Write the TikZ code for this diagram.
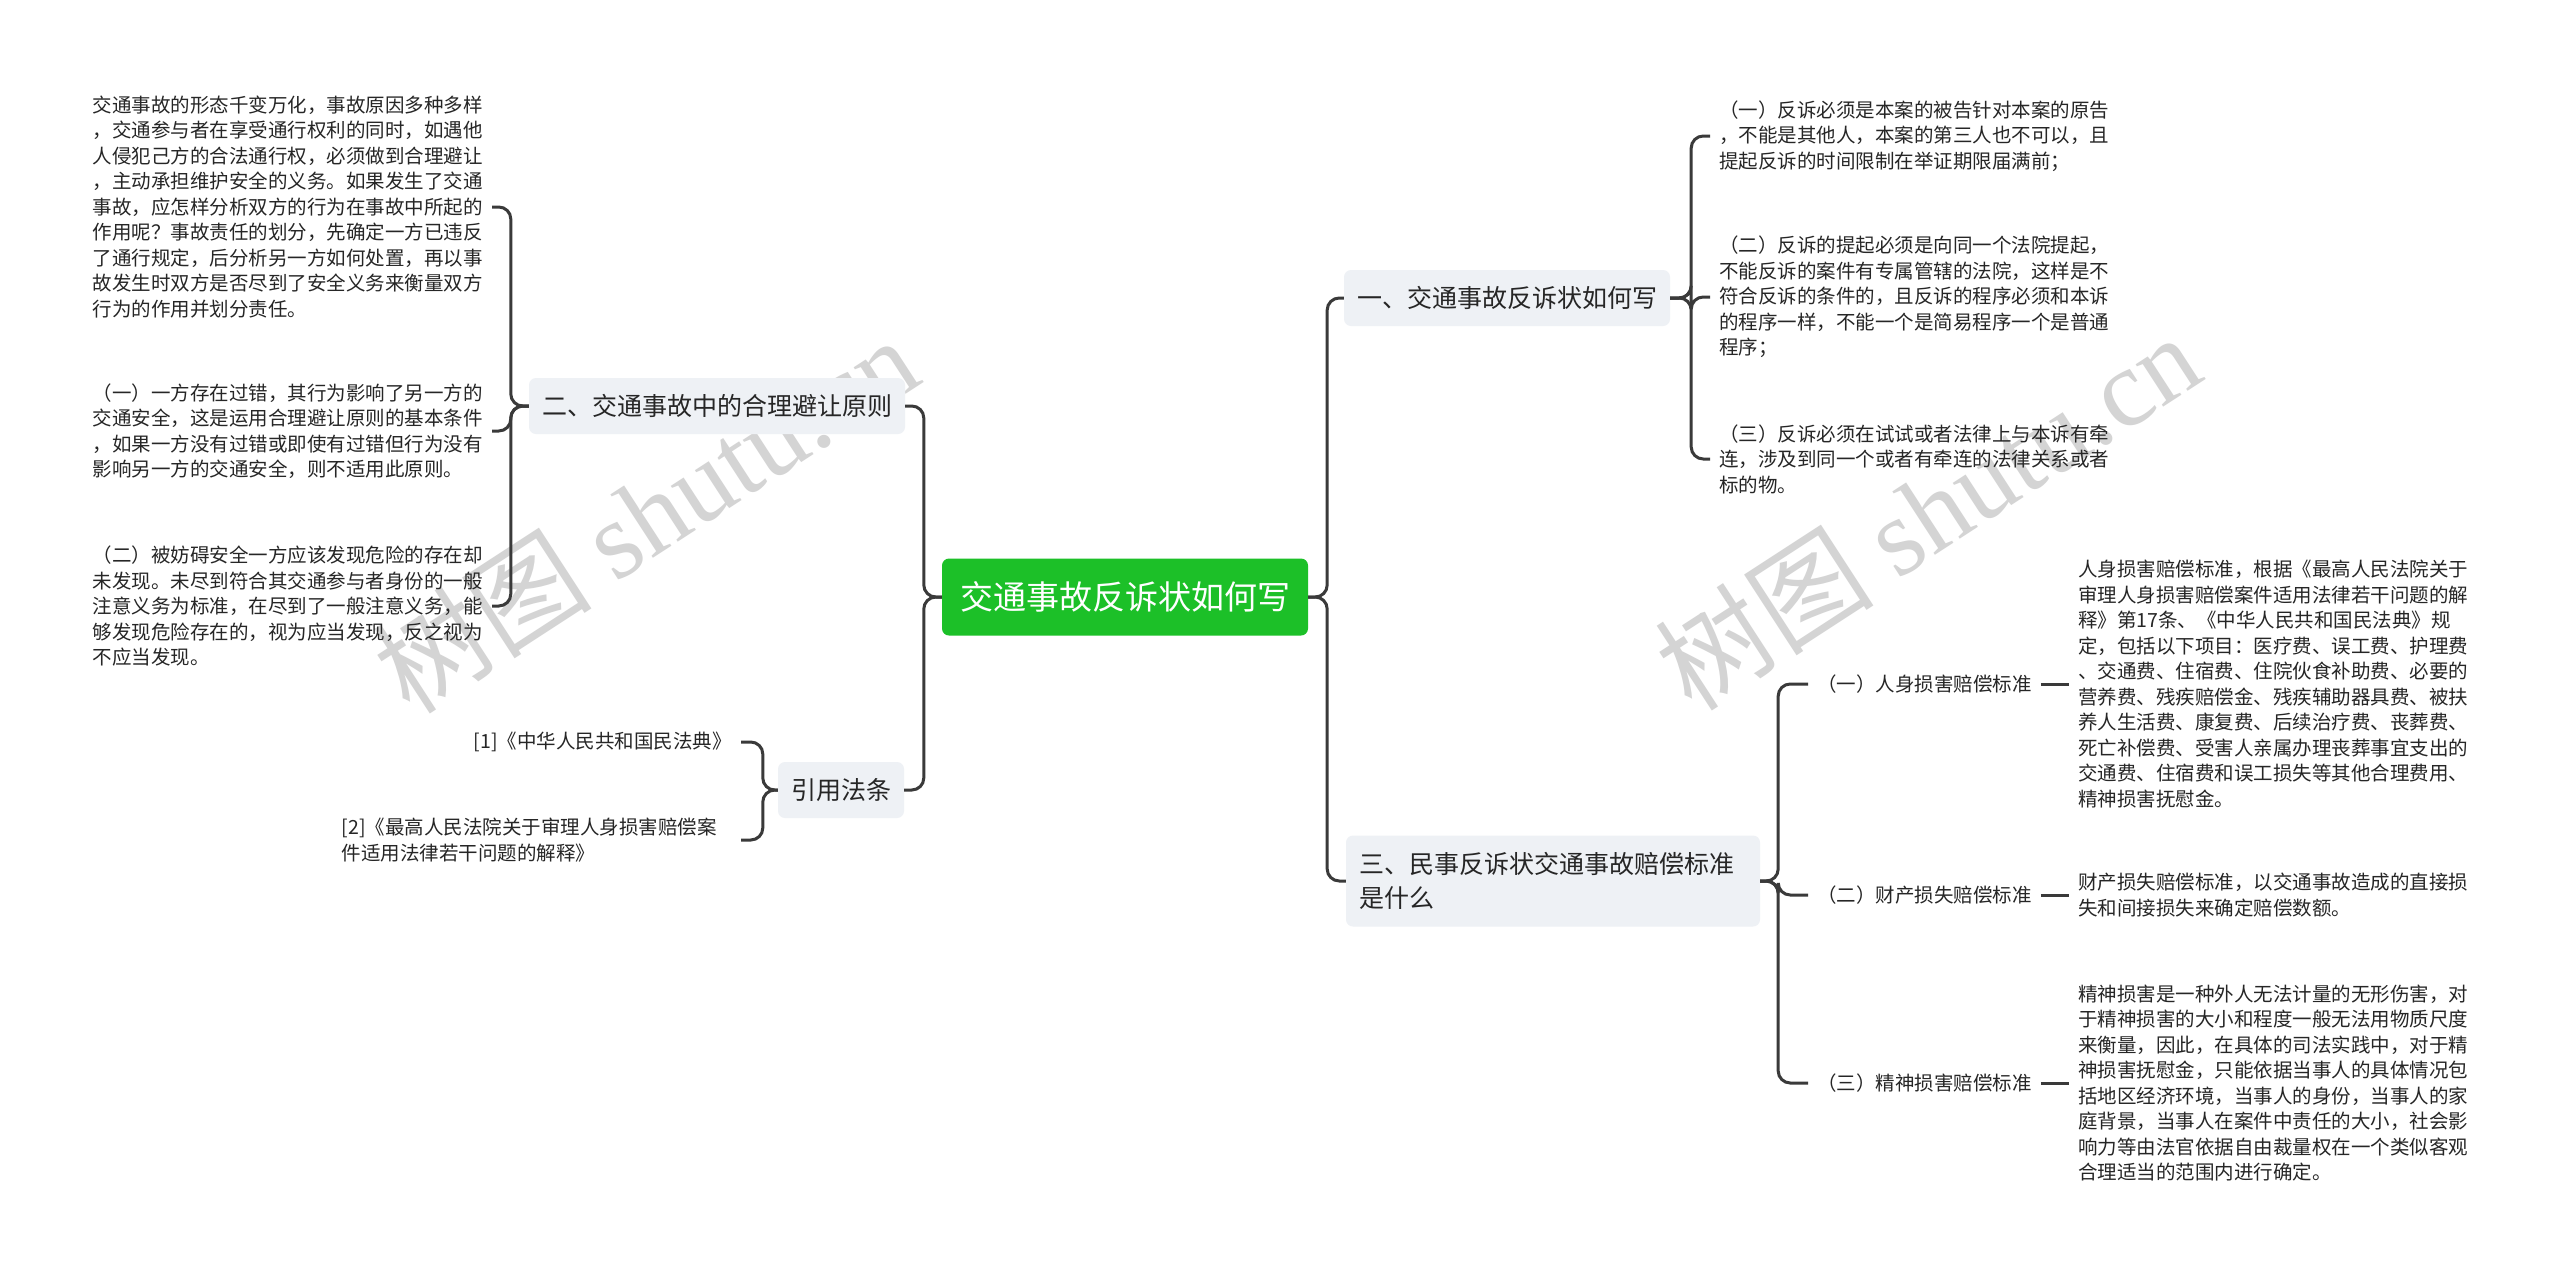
\documentclass[tikz,border=0pt]{standalone}
\usepackage{fontspec}
\setmainfont{Noto Sans CJK SC}
\newfontfamily\wmlatin{Liberation Serif}
\usetikzlibrary{positioning}
\definecolor{rootgreen}{RGB}{28,192,40}
\definecolor{boxgray}{RGB}{238,241,245}
\definecolor{linegray}{RGB}{58,58,58}
\definecolor{txtgray}{RGB}{38,38,38}
\definecolor{wmgray}{RGB}{212,212,212}

\tikzset{
  root/.style={fill=rootgreen, rounded corners=7pt, text=white,
    font=\fontsize{33}{40}\selectfont, minimum width=366pt, minimum height=77pt},
  branch/.style={fill=boxgray, rounded corners=7pt, text=txtgray,
    font=\fontsize{25}{34}\selectfont, inner xsep=13pt, minimum height=56pt, align=left},
  leaf/.style={text=txtgray, font=\fontsize{19.5}{25.5}\selectfont, align=left, inner sep=9pt},
  link/.style={draw=linegray, line width=3pt, rounded corners=12pt},
  wm/.style={text=wmgray, font=\fontsize{110}{110}\selectfont, inner sep=0pt},
}

\begin{document}
\begin{tikzpicture}[x=1pt, y=-1pt]
        \useasboundingbox[fill=white] (0,0) rectangle (2560,1275);

        % Watermarks
        \node[wm, rotate=33] (wmL) at (645,514) {树图 {\wmlatin shutu.cn}};
        \node[wm, rotate=33] (wmR) at (1927,511) {树图 {\wmlatin shutu.cn}};

        % Root
        \node[root] (root) at (1125,597) {交通事故反诉状如何写};

        % Left branches
        \node[branch] (avoid) at (717,406) {二、交通事故中的合理避让原则};
        \node[branch] (cite) at (841,790) {引用法条};

        \node[leaf, anchor=east] (avoidA) at (492,207) {交通事故的形态千变万化，事故原因多种多样\\
          ，交通参与者在享受通行权利的同时，如遇他\\
          人侵犯己方的合法通行权，必须做到合理避让\\
          ，主动承担维护安全的义务。如果发生了交通\\
          事故，应怎样分析双方的行为在事故中所起的\\
          作用呢？事故责任的划分，先确定一方已违反\\
          了通行规定，后分析另一方如何处置，再以事\\
          故发生时双方是否尽到了安全义务来衡量双方\\
          行为的作用并划分责任。};
        \node[leaf, anchor=east] (avoidB) at (492,431) {（一）一方存在过错，其行为影响了另一方的\\
          交通安全，这是运用合理避让原则的基本条件\\
          ，如果一方没有过错或即使有过错但行为没有\\
          影响另一方的交通安全，则不适用此原则。};
        \node[leaf, anchor=east] (avoidC) at (492,606) {（二）被妨碍安全一方应该发现危险的存在却\\
          未发现。未尽到符合其交通参与者身份的一般\\
          注意义务为标准，在尽到了一般注意义务，能\\
          够发现危险存在的，视为应当发现，反之视为\\
          不应当发现。};

        \node[leaf, anchor=east] (citeA) at (741,742) {[1]《中华人民共和国民法典》};
        \node[leaf, anchor=east, text width=390pt] (citeB) at (741,840) {[2]《最高人民法院关于审理人身损害赔偿案\\
          件适用法律若干问题的解释》};

        % Right branches
        \node[branch] (write) at (1507,298) {一、交通事故反诉状如何写};
        \node[branch, text width=388pt, minimum height=91pt] (comp) at (1553,881) {三、民事反诉状交通事故赔偿标准\\是什么};

        \node[leaf, anchor=west] (writeA) at (1710,136) {（一）反诉必须是本案的被告针对本案的原告\\
          ，不能是其他人，本案的第三人也不可以，且\\
          提起反诉的时间限制在举证期限届满前；};
        \node[leaf, anchor=west] (writeB) at (1710,297) {（二）反诉的提起必须是向同一个法院提起，\\
          不能反诉的案件有专属管辖的法院，这样是不\\
          符合反诉的条件的，且反诉的程序必须和本诉\\
          的程序一样，不能一个是简易程序一个是普通\\
          程序；};
        \node[leaf, anchor=west] (writeC) at (1710,459) {（三）反诉必须在试试或者法律上与本诉有牵\\
          连，涉及到同一个或者有牵连的法律关系或者\\
          标的物。};

        \node[leaf, anchor=west] (compA) at (1808,684) {（一）人身损害赔偿标准};
        \node[leaf, anchor=west] (compB) at (1808,895) {（二）财产损失赔偿标准};
        \node[leaf, anchor=west] (compC) at (1808,1083) {（三）精神损害赔偿标准};

        \node[leaf, right=28pt of compA] (compAtext) {人身损害赔偿标准，根据《最高人民法院关于\\
          审理人身损害赔偿案件适用法律若干问题的解\\
          释》第17条、《中华人民共和国民法典》规\\
          定，包括以下项目：医疗费、误工费、护理费\\
          、交通费、住宿费、住院伙食补助费、必要的\\
          营养费、残疾赔偿金、残疾辅助器具费、被扶\\
          养人生活费、康复费、后续治疗费、丧葬费、\\
          死亡补偿费、受害人亲属办理丧葬事宜支出的\\
          交通费、住宿费和误工损失等其他合理费用、\\
          精神损害抚慰金。};
        \node[leaf, right=28pt of compB] (compBtext) {财产损失赔偿标准，以交通事故造成的直接损\\
          失和间接损失来确定赔偿数额。};
        \node[leaf, right=28pt of compC] (compCtext) {精神损害是一种外人无法计量的无形伤害，对\\
          于精神损害的大小和程度一般无法用物质尺度\\
          来衡量，因此，在具体的司法实践中，对于精\\
          神损害抚慰金，只能依据当事人的具体情况包\\
          括地区经济环境，当事人的身份，当事人的家\\
          庭背景，当事人在案件中责任的大小，社会影\\
          响力等由法官依据自由裁量权在一个类似客观\\
          合理适当的范围内进行确定。};

        % Junctions
        \coordinate (rootL) at ([xshift=-18pt]root.west);
        \coordinate (rootR) at ([xshift=19pt]root.east);
        \coordinate (avoidJ) at ([xshift=-18pt]avoid.west);
        \coordinate (citeJ) at ([xshift=-15pt]cite.west);
        \coordinate (writeJ) at ([xshift=21pt]write.east);
        \coordinate (compJ) at ([xshift=18pt]comp.east);

        % Connectors
        \foreach \c in {avoid, cite}
          \draw[link] (root.west) -- (rootL) |- (\c.east);
        \foreach \c in {write, comp}
          \draw[link] (root.east) -- (rootR) |- (\c.west);
        \foreach \c in {avoidA, avoidB, avoidC}
          \draw[link] (avoid.west) -- (avoidJ) |- (\c.east);
        \foreach \c in {citeA, citeB}
          \draw[link] (cite.west) -- (citeJ) |- (\c.east);
        \foreach \c in {writeA, writeB, writeC}
          \draw[link] (write.east) -- (writeJ) |- (\c.west);
        \foreach \c in {compA, compB, compC}
          \draw[link] (comp.east) -- (compJ) |- (\c.west);
        \foreach \c in {compA, compB, compC}
          \draw[link] (\c.east) -- (\c text.west);
\end{tikzpicture}
\end{document}
